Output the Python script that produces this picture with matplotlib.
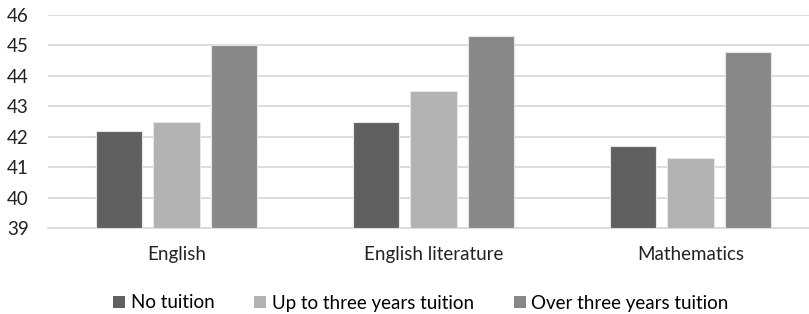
import matplotlib
matplotlib.use("Agg")
import matplotlib.pyplot as plt
from matplotlib.patches import Patch
import numpy as np

categories = ["English", "English literature", "Mathematics"]
series_names = ["No tuition", "Up to three years tuition", "Over three years tuition"]
no_tuition = [42.2, 42.5, 41.7]
up_to_three = [42.5, 43.5, 41.3]
over_three = [45.0, 45.3, 44.8]
colors = ["#606060", "#b2b2b2", "#888888"]

plt.rcParams['font.family'] = ['Lato', 'DejaVu Sans']

fig = plt.figure(figsize=(8.09, 3.14), dpi=100)
ax = fig.add_axes([48 / 809, 86 / 314, 761 / 809, 213 / 314])

x = np.arange(len(categories))
width = 0.179
step = 0.222
for i, (vals, col) in enumerate(zip([no_tuition, up_to_three, over_three], colors)):
    ax.bar(x + (i - 1) * step, np.array(vals) - 39, bottom=39, width=width,
           color=col, edgecolor="#e6e6e6", linewidth=0.8, zorder=3)

ax.set_ylim(39, 46)
ax.set_xlim(-0.5, -0.5 + 761 / 257)
ax.set_yticks(range(39, 47))
ax.grid(axis="y", color="#d9d9d9", linewidth=1.3, zorder=0)
for s in ["top", "right", "left"]:
    ax.spines[s].set_visible(False)
ax.spines["bottom"].set_color("#d9d9d9")
ax.spines["bottom"].set_linewidth(1.3)
ax.tick_params(axis="both", length=0, labelsize=13.5, colors="#222222")
ax.tick_params(axis="y", pad=14)
ax.tick_params(axis="x", pad=13)
ax.set_xticks(x)
ax.set_xticklabels(categories)

handles = [Patch(facecolor=c, edgecolor="none") for c in colors]
fig.legend(handles, series_names, loc="center", bbox_to_anchor=(421 / 809, 1 - 303 / 314),
           ncol=3, frameon=False, fontsize=13.5, handlelength=0.65, handleheight=0.65,
           handletextpad=0.3, columnspacing=2.1)

fig.savefig("out.png", dpi=100)
